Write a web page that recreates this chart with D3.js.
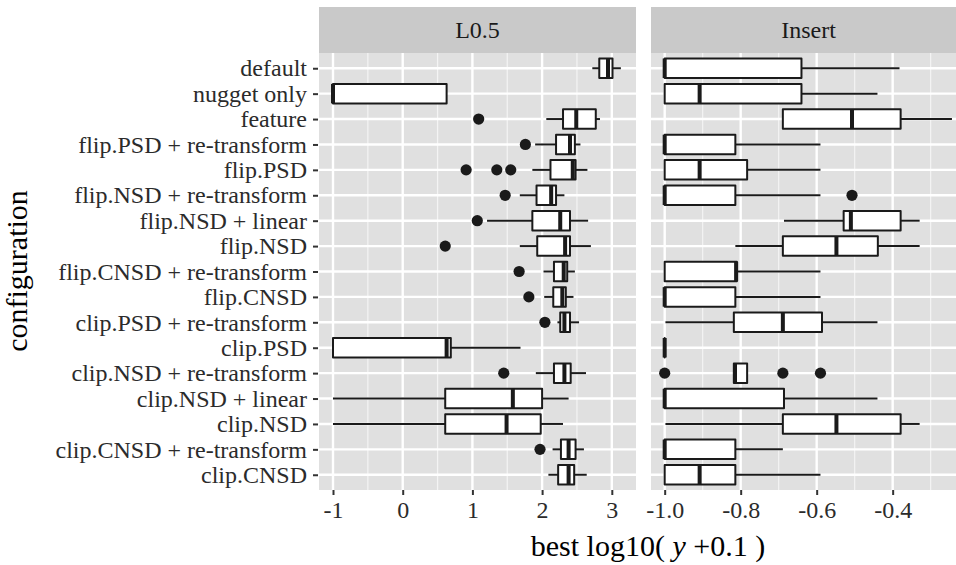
<!DOCTYPE html>
<html><head><meta charset="utf-8">
<script src="https://cdn.jsdelivr.net/npm/d3@7"></script>
<style>body{margin:0;background:#fff}svg{display:block}</style>
</head><body><svg id="c" width="956" height="565"></svg>
<script>
const categories = ["default","nugget only","feature","flip.PSD + re-transform","flip.PSD","flip.NSD + re-transform","flip.NSD + linear","flip.NSD","flip.CNSD + re-transform","flip.CNSD","clip.PSD + re-transform","clip.PSD","clip.NSD + re-transform","clip.NSD + linear","clip.NSD","clip.CNSD + re-transform","clip.CNSD"];
const panels = ["L0.5","Insert"];
// L0.5 panel
const l05Lo  = [2.72,-1,2.06,1.90,1.86,1.68,1.21,1.68,2.02,2.03,2.22,-1,1.91,-1,-1,2.15,2.09];
const l05Q1  = [2.82,-1,2.30,2.20,2.12,1.92,1.86,1.93,2.17,2.16,2.26,-1,2.17,0.61,0.61,2.27,2.23];
const l05Med = [2.945,-1,2.49,2.40,2.44,2.13,2.26,2.33,2.31,2.29,2.32,0.63,2.32,1.58,1.49,2.38,2.38];
const l05Q3  = [3.01,0.63,2.77,2.47,2.48,2.20,2.40,2.40,2.36,2.34,2.40,0.69,2.41,2.00,1.98,2.48,2.46];
const l05Hi  = [3.13,0.63,2.83,2.55,2.65,2.32,2.66,2.70,2.47,2.45,2.53,1.69,2.63,2.38,2.30,2.60,2.64];
const l05Out = [[],[],[1.09],[1.76],[0.91,1.35,1.55],[1.47],[1.07],[0.61],[1.67],[1.81],[2.04],[],[1.45],[],[],[1.97],[]];
// Insert panel
const insLo  = [-1,-1,-0.689,-1,-1,-1,-0.686,-0.814,-1,-1,-0.998,-1,-0.818,-1,-0.998,-1,-1];
const insQ1  = [-1,-1,-0.689,-1,-1,-1,-0.529,-0.689,-1,-1,-0.818,-1,-0.818,-1,-0.689,-1,-1];
const insMed = [-1,-0.908,-0.507,-1,-0.908,-1,-0.51,-0.548,-0.812,-1,-0.689,-1,-0.815,-1,-0.548,-1,-0.908];
const insQ3  = [-0.64,-0.64,-0.379,-0.814,-0.783,-0.814,-0.379,-0.439,-0.81,-0.814,-0.586,-1,-0.783,-0.686,-0.379,-0.814,-0.814];
const insHi  = [-0.382,-0.44,-0.244,-0.59,-0.59,-0.59,-0.329,-0.329,-0.59,-0.59,-0.44,-1,-0.783,-0.44,-0.329,-0.689,-0.59];
const insOut = [[],[],[],[],[],[-0.507],[],[],[],[],[],[],[-1,-0.689,-0.59],[],[],[],[]];
const l05Ticks = [-1,0,1,2,3];
const l05Minor = [-0.5,0.5,1.5,2.5];
const insTicks = [-1.0,-0.8,-0.6,-0.4];
const insMinor = [-0.9,-0.7,-0.5,-0.3];
const xTitle = "best log10(";
const yTitle = "configuration";

const FONT = "'Liberation Serif','Times New Roman',serif";
const TXT = 24, TITLE = 30;
const svg = d3.select("#c");
const pTop = 53, pBottom = 490, stripTop = 7;
const y = d3.scalePoint().domain(categories).range([pTop, pBottom]).padding(0.6);
const boxH = 19.5;
const loc = d3.formatLocale({decimal: ".", thousands: ",", grouping: [3], currency: ["", ""], minus: "-"});

const defs = [
  {name: panels[0], x: d3.scaleLinear().domain([-1.2009, 3.347]).range([319, 636]), lo:l05Lo,q1:l05Q1,med:l05Med,q3:l05Q3,hi:l05Hi,out:l05Out,ticks:l05Ticks,minor:l05Minor,fmt:loc.format("d")},
  {name: panels[1], x: d3.scaleLinear().domain([-1.036, -0.207]).range([651, 966]), lo:insLo,q1:insQ1,med:insMed,q3:insQ3,hi:insHi,out:insOut,ticks:insTicks,minor:insMinor,fmt:loc.format(".1f")}
];

defs.forEach(p => {
  const [x0, x1] = p.x.range();
  const g = svg.append("g");
  g.append("rect").attr("x", x0).attr("y", stripTop).attr("width", x1 - x0).attr("height", pTop - stripTop).attr("fill", "#c9c9c9");
  g.append("text").attr("x", (x0 + x1) / 2).attr("y", (stripTop + pTop) / 2).attr("dy", "0.33em")
    .attr("text-anchor", "middle").attr("font-family", FONT).attr("font-size", TXT).attr("fill", "#1a1a1a").text(p.name);
  g.append("rect").attr("x", x0).attr("y", pTop).attr("width", x1 - x0).attr("height", pBottom - pTop).attr("fill", "#e0e0e0");
  g.selectAll(".mx").data(p.minor).join("line").attr("x1", d => p.x(d)).attr("x2", d => p.x(d)).attr("y1", pTop).attr("y2", pBottom).attr("stroke", "#f4f4f4").attr("stroke-width", 1.2);
  g.selectAll(".Mx").data(p.ticks).join("line").attr("x1", d => p.x(d)).attr("x2", d => p.x(d)).attr("y1", pTop).attr("y2", pBottom).attr("stroke", "#fff").attr("stroke-width", 2.4);
  g.selectAll(".My").data(categories).join("line").attr("x1", x0).attr("x2", x1).attr("y1", d => y(d)).attr("y2", d => y(d)).attr("stroke", "#fff").attr("stroke-width", 2.4);
  const ax = d3.axisBottom(p.x).tickValues(p.ticks).tickFormat(p.fmt).tickSize(5).tickPadding(6);
  const axg = svg.append("g").attr("transform", `translate(0,${pBottom})`).call(ax);
  axg.select(".domain").remove();
  axg.selectAll(".tick line").attr("stroke", "#333").attr("stroke-width", 2);
  axg.selectAll(".tick text").attr("font-family", FONT).attr("font-size", TXT).attr("fill", "#2b2b2b");
  const bg = g.append("g");
  categories.forEach((c, i) => {
    const cy = y(c);
    const line = (a, b) => bg.append("line").attr("x1", p.x(a)).attr("x2", p.x(b)).attr("y1", cy).attr("y2", cy).attr("stroke", "#1a1a1a").attr("stroke-width", 2);
    if (p.lo[i] < p.q1[i]) line(p.lo[i], p.q1[i]);
    if (p.hi[i] > p.q3[i]) line(p.q3[i], p.hi[i]);
    const bx0 = p.x(p.q1[i]), bx1 = p.x(p.q3[i]);
    bg.append("path").attr("d", `M${bx0},${cy - boxH/2}H${bx1}V${cy + boxH/2}H${bx0}Z`)
      .attr("fill", "#fff").attr("stroke", "#1a1a1a").attr("stroke-width", 2).attr("stroke-linejoin", "round");
    bg.append("line").attr("x1", p.x(p.med[i])).attr("x2", p.x(p.med[i])).attr("y1", cy - boxH/2).attr("y2", cy + boxH/2)
      .attr("stroke", "#1a1a1a").attr("stroke-width", 4);
    bg.selectAll(null).data(p.out[i]).join("circle").attr("cx", d => p.x(d)).attr("cy", cy).attr("r", 5.6).attr("fill", "#1a1a1a");
  });
});

const ay = d3.axisLeft(y).tickSize(5).tickPadding(6);
const ayg = svg.append("g").attr("transform", "translate(318,0)").call(ay);
ayg.select(".domain").remove();
ayg.selectAll(".tick line").attr("stroke", "#333").attr("stroke-width", 2);
ayg.selectAll(".tick text").attr("font-family", FONT).attr("font-size", TXT).attr("fill", "#2b2b2b");

const xt = svg.append("text").attr("x", 648).attr("y", 556).attr("text-anchor", "middle")
  .attr("font-family", FONT).attr("font-size", TITLE).attr("fill", "#000");
xt.append("tspan").text(xTitle + " ");
xt.append("tspan").attr("font-style", "italic").text("y");
xt.append("tspan").text(" +0.1 )");
svg.append("text").attr("transform", "translate(27,271) rotate(-90)").attr("text-anchor", "middle")
  .attr("font-family", FONT).attr("font-size", TITLE).attr("fill", "#000").text(yTitle);
</script></body></html>
